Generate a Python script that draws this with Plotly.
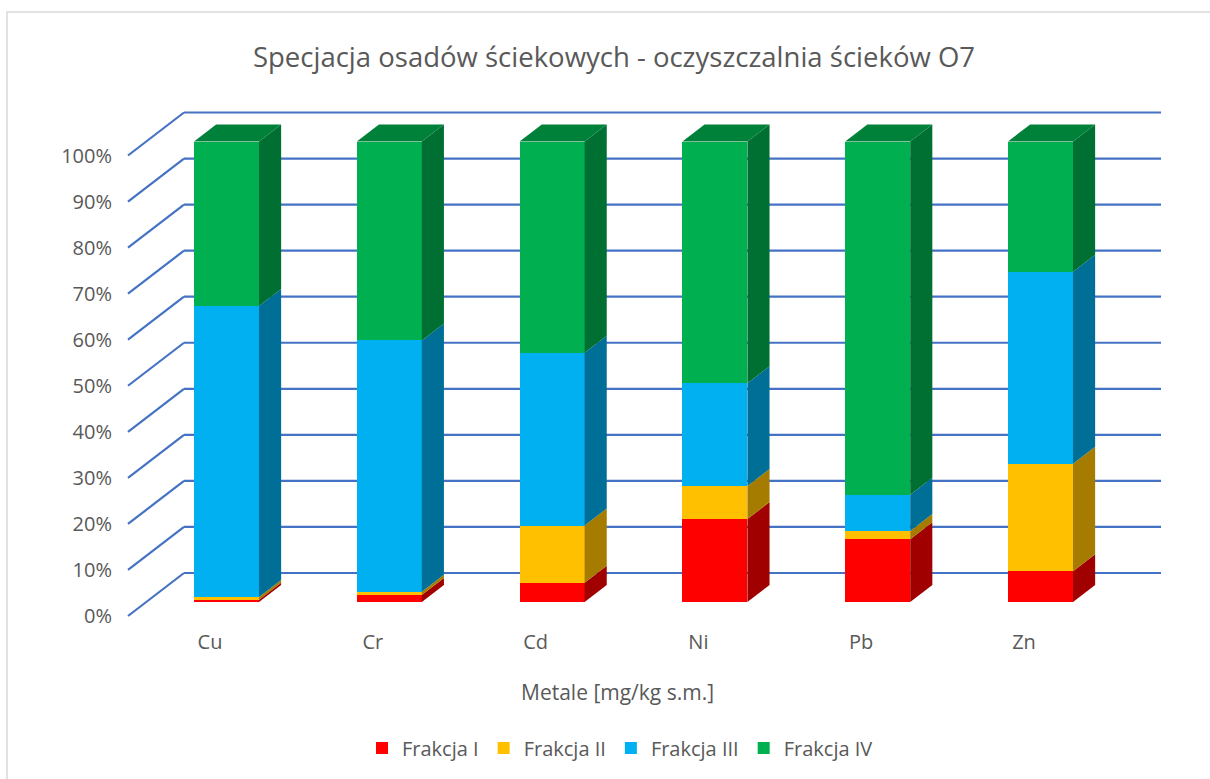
import plotly.graph_objects as go

# Speciation of metals in sewage sludge, share of each fraction [%]
metals = ["Cu", "Cr", "Cd", "Ni", "Pb", "Zn"]
frakcja_1 = [0.5, 1.5, 4.2, 18.0, 13.6, 6.7]
frakcja_2 = [0.6, 0.7, 12.4, 7.2, 1.8, 23.3]
frakcja_3 = [63.2, 54.6, 37.5, 22.3, 7.9, 41.7]
frakcja_4 = [35.7, 43.2, 45.9, 52.5, 76.7, 28.3]
series_names = ["Frakcja I", "Frakcja II", "Frakcja III", "Frakcja IV"]
y_ticks = list(range(0, 101, 10))

series = [frakcja_1, frakcja_2, frakcja_3, frakcja_4]
front_colors = ["#FF0000", "#FFC000", "#00B0F0", "#00B050"]
side_colors = ["#A00000", "#A67C00", "#006F97", "#006F32"]
top_color = "#008139"
grid_color = "#4472C4"
text_color = "#595959"
FONT = "Open Sans, sans-serif"

# ---- page / plot-area geometry (pixels) ----
W, H = 1210, 779
L, R, T, B = 113, 1175, 95, 628
CAT_PX = 162.8          # pixels between categories
CAT0_PX = 210.0         # pixel x of first category on the front edge
PCT_PX = 4.605          # pixels per percent
ZERO_PX = 616.0         # pixel y of 0% on the front edge of the floor

# oblique depth of the floor (front edge -> back wall) in axis units
DX = 56 / CAT_PX
DY = 43 / PCT_PX
F_FRONT = 14 / 43       # depth of bar front faces
F_BACK = 31 / 43        # depth of bar back faces
BAR_W = 65 / CAT_PX

x_range = [(L - CAT0_PX) / CAT_PX, (R - CAT0_PX) / CAT_PX]
y_range = [(ZERO_PX - B) / PCT_PX, (ZERO_PX - T) / PCT_PX]
shift = F_FRONT * DY
y2_range = [y_range[0] - shift, y_range[1] - shift]

x_idx = list(range(len(metals)))
bar_x = [i + 16.5 / CAT_PX for i in x_idx]
ddx = (F_BACK - F_FRONT) * DX
ddy = (F_BACK - F_FRONT) * DY

fig = go.Figure()

# front faces: stacked bars
for name, vals, col in zip(series_names, series, front_colors):
    fig.add_trace(go.Bar(
        x=bar_x, y=vals, name=name, width=BAR_W,
        marker=dict(color=col, line=dict(width=0)),
        xaxis="x", yaxis="y2", hoverinfo="name+y",
    ))

# side faces of every stacked segment
for k, (vals, col) in enumerate(zip(series, side_colors)):
    for i, bx in enumerate(bar_x):
        lo = sum(s[i] for s in series[:k])
        hi = lo + vals[i]
        xr = bx + BAR_W / 2
        fig.add_trace(go.Scatter(
            x=[xr, xr + ddx, xr + ddx, xr, xr],
            y=[lo, lo + ddy, hi + ddy, hi, lo],
            mode="lines", fill="toself", fillcolor=col,
            line=dict(width=0, color=col), showlegend=False,
            hoverinfo="skip", xaxis="x", yaxis="y2",
        ))

# top faces
for i, bx in enumerate(bar_x):
    total = sum(s[i] for s in series)
    xl, xr = bx - BAR_W / 2, bx + BAR_W / 2
    fig.add_trace(go.Scatter(
        x=[xl, xl + ddx, xr + ddx, xr, xl],
        y=[total, total + ddy, total + ddy, total, total],
        mode="lines", fill="toself", fillcolor=top_color,
        line=dict(width=0, color=top_color), showlegend=False,
        hoverinfo="skip", xaxis="x", yaxis="y2",
    ))

# gridlines: floor diagonals + back wall
x_front = (128 - CAT0_PX) / CAT_PX
x_end = (1161 - CAT0_PX) / CAT_PX
shapes = []
for v in y_ticks:
    shapes.append(dict(type="line", xref="x", yref="y", layer="below",
                       x0=x_front, y0=v, x1=x_front + DX, y1=v + DY,
                       line=dict(color=grid_color, width=2.2)))
    shapes.append(dict(type="line", xref="x", yref="y", layer="below",
                       x0=x_front + DX, y0=v + DY, x1=x_end, y1=v + DY,
                       line=dict(color=grid_color, width=2.2)))
# chart-area border
shapes.append(dict(type="rect", xref="paper", yref="paper",
                   x0=(7 - L) / (R - L), x1=(W + 5 - L) / (R - L),
                   y0=(B - (H + 5)) / (B - T), y1=(B - 12) / (B - T),
                   line=dict(color="#D9D9D9", width=1.5), layer="below"))

fig.update_layout(
    width=W, height=H,
    margin=dict(l=L, r=W - R, t=T, b=H - B, pad=0),
    paper_bgcolor="white", plot_bgcolor="white",
    barmode="stack", bargap=0,
    font=dict(family=FONT, color=text_color, size=20),
    title=dict(text="Specjacja osadów ściekowych - oczyszczalnia ścieków O7",
               x=614 / W, xref="container", xanchor="center",
               y=1 - 57 / H, yref="container", yanchor="middle",
               font=dict(size=27.5, color=text_color, family=FONT)),
    xaxis=dict(range=x_range, tickmode="array", tickvals=x_idx, ticktext=metals,
               showgrid=False, zeroline=False, showline=False, ticks="",
               tickfont=dict(size=20, color=text_color), fixedrange=True),
    yaxis=dict(range=y_range, tickmode="array", tickvals=y_ticks,
               ticktext=[f"{v}%" for v in y_ticks],
               showgrid=False, zeroline=False, showline=False, ticks="",
               tickfont=dict(size=20, color=text_color), fixedrange=True),
    yaxis2=dict(range=y2_range, overlaying="y", visible=False, fixedrange=True),
    legend=dict(orientation="h", xref="container", yref="container",
                x=620 / W, xanchor="center", y=1 - 748 / H, yanchor="middle",
                font=dict(size=20, color=text_color), traceorder="normal"),
    shapes=shapes,
    annotations=[dict(text="Metale [mg/kg s.m.]", xref="paper", yref="paper",
                      x=(617 - L) / (R - L), y=(B - 692) / (B - T),
                      xanchor="center", yanchor="middle", showarrow=False,
                      font=dict(size=21, color=text_color))],
)

fig.write_html("out.html")
